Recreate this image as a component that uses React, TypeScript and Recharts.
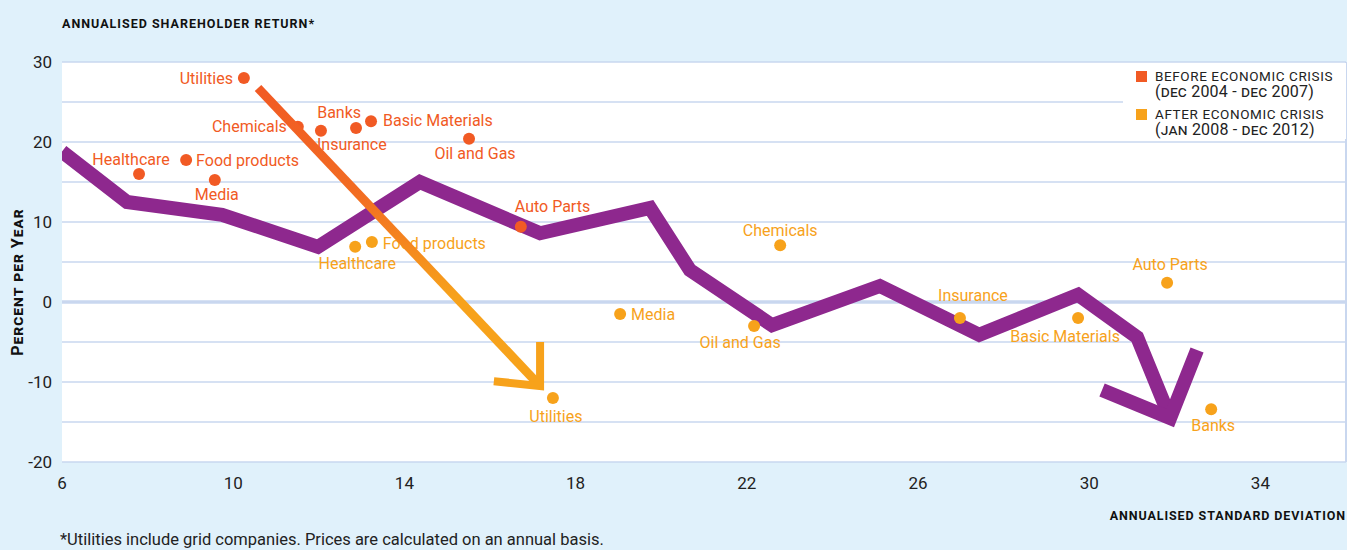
import React from 'react'
import { CartesianGrid, ReferenceLine, Scatter, ScatterChart, XAxis, YAxis } from 'recharts'

// Sector results: x = annualised standard deviation, y = return (% per year)
const beforeNames = ['Utilities', 'Chemicals', 'Insurance', 'Banks', 'Basic Materials', 'Oil and Gas', 'Healthcare', 'Food products', 'Media', 'Auto Parts']
const beforeRisk = [10.25, 11.51, 12.05, 12.87, 13.22, 15.51, 7.8, 8.9, 9.57, 16.72]
const beforeReturn = [28.0, 21.9, 21.4, 21.75, 22.6, 20.4, 16.0, 17.75, 15.25, 9.4]

const afterNames = ['Healthcare', 'Food products', 'Utilities', 'Media', 'Oil and Gas', 'Chemicals', 'Insurance', 'Basic Materials', 'Auto Parts', 'Banks']
const afterRisk = [12.85, 13.24, 17.47, 19.04, 22.17, 22.78, 26.98, 29.74, 31.82, 32.85]
const afterReturn = [6.9, 7.5, -12.0, -1.5, -3.0, 7.1, -2.0, -2.0, 2.4, -13.4]

// Purple trend zig-zag and its arrow head
const trendRisk = [6, 7.52, 9.74, 11.98, 14.36, 17.17, 19.74, 20.67, 22.59, 25.11, 27.43, 29.74, 31.12, 31.89]
const trendReturn = [18.8, 12.5, 10.9, 6.9, 15.0, 8.6, 11.75, 4.0, -2.9, 2.0, -4.1, 0.9, -4.4, -14.5]
const trendHeadRisk = [30.3, 31.89, 32.52]
const trendHeadReturn = [-11.0, -14.5, -6.0]

// Utilities shift arrow (before -> after)
const shiftRisk = [10.58, 17.17]
const shiftReturn = [26.75, -10.5]
const shiftHeadRisk = [16.09, 17.17, 17.17]
const shiftHeadReturn = [-9.9, -10.5, -5.0]

const xTicks = [6, 10, 14, 18, 22, 26, 30, 34]
const yTicks = [-20, -10, 0, 10, 20, 30]
const gridValues = [-20, -15, -10, -5, 0, 5, 10, 15, 20, 25, 30]

const legendTitles = ['BEFORE ECONOMIC CRISIS', 'AFTER ECONOMIC CRISIS']
const legendRanges = ['(dec 2004 - dec 2007)', '(jan 2008 - dec 2012)']

// label placement next to each dot: [dx, dy, anchor]
type Place = [number, number, 'start' | 'middle' | 'end']
const beforePlaces: Place[] = [
  [-11, 0, 'end'], [-11, 0, 'end'], [-4, 14, 'start'], [5, -16, 'end'], [12, -1, 'start'],
  [6, 15, 'middle'], [-8, -15, 'middle'], [10, 0, 'start'], [2, 14, 'middle'], [-6, -20, 'start']
]
const afterPlaces: Place[] = [
  [2, 17, 'middle'], [11, 1, 'start'], [3, 18, 'middle'], [11, 0, 'start'], [-14, 16, 'middle'],
  [0, -15, 'middle'], [13, -23, 'middle'], [-13, 18, 'middle'], [3, -18, 'middle'], [2, 16, 'middle']
]

const RED = '#f15a24'
const ORANGE = '#f7a21b'
const PURPLE = '#8e288e'
const GRID = '#c9d7ef'
const FONT = 'Roboto, sans-serif'
const legendColors = [RED, ORANGE]

const toPoints = (xs: number[], ys: number[], names?: string[]) =>
  xs.map((x, i) => ({ x, y: ys[i], name: names ? names[i] : '', i }))

const beforeData = toPoints(beforeRisk, beforeReturn, beforeNames)
const afterData = toPoints(afterRisk, afterReturn, afterNames)
const trendData = toPoints(trendRisk, trendReturn)
const trendHeadData = toPoints(trendHeadRisk, trendHeadReturn)
const shiftData = toPoints(shiftRisk, shiftReturn)
const shiftHeadData = toPoints(shiftHeadRisk, shiftHeadReturn)

const noDot = () => <g />

function labelledDot(color: string, places: Place[]) {
  return (props: any) => {
    const { cx, cy, payload } = props
    const [dx, dy, anchor] = places[payload.i]
    return (
      <g>
        <circle cx={cx} cy={cy} r={6} fill={color} />
        <text x={cx + dx} y={cy + dy} textAnchor={anchor} dominantBaseline='central' fill={color} fontSize={16} fontFamily={FONT}>
          {payload.name}
        </text>
      </g>
    )
  }
}

function LegendBox() {
  return (
    <div style={{ position: 'absolute', top: 63, left: 1123, background: '#fff', width: 223, height: 76, paddingTop: 5, boxSizing: 'border-box', fontFamily: FONT, color: '#222' }}>
      {legendTitles.map((title, i) => (
        <div key={title} style={{ display: 'flex', marginBottom: 6, marginLeft: 13 }}>
          <div style={{ width: 11, height: 11, background: legendColors[i], marginTop: 3, marginRight: 8 }} />
          <div style={{ fontSize: 13.5, lineHeight: '16px', letterSpacing: 0.6 }}>
            <div>{title}</div>
            <div style={{ fontVariant: 'small-caps', fontSize: 16, letterSpacing: 0.2 }}>{legendRanges[i]}</div>
          </div>
        </div>
      ))}
    </div>
  )
}

export default function App() {
  return (
    <div style={{ position: 'absolute', left: 0, top: 0, width: 1347, height: 550, background: '#e0f1fb', overflow: 'hidden' }}>
      <div style={{ position: 'absolute', left: 62, top: 16, fontFamily: FONT, fontWeight: 700, fontSize: 12.5, letterSpacing: 1, color: '#111' }}>
        ANNUALISED SHAREHOLDER RETURN*
      </div>
      <div style={{ position: 'absolute', left: 60, top: 530, fontFamily: FONT, fontSize: 16.5, color: '#222' }}>
        *Utilities include grid companies. Prices are calculated on an annual basis.
      </div>
      <ScatterChart width={1347} height={550} margin={{ top: 62, right: 1, bottom: 0, left: 0 }}>
        <defs>
          <linearGradient id='shiftGrad' x1='0' y1='0' x2='0' y2='1'>
            <stop offset='0%' stopColor='#f15a24' />
            <stop offset='35%' stopColor='#f26c22' />
            <stop offset='70%' stopColor='#f7a21b' />
            <stop offset='100%' stopColor='#f7a21b' />
          </linearGradient>
        </defs>
        <CartesianGrid fill='#fff' vertical={false} stroke={GRID} strokeWidth={1.5} horizontalValues={gridValues} />
        <ReferenceLine y={0} stroke={GRID} strokeWidth={3.5} />
        <ReferenceLine x={36} stroke={GRID} strokeWidth={2} />
        <XAxis
          type='number'
          dataKey='x'
          domain={[6, 36]}
          ticks={xTicks}
          axisLine={false}
          tickLine={false}
          height={88}
          allowDataOverflow
          tick={(p: any) => (
            <text x={p.x} y={483} textAnchor='middle' dominantBaseline='central' fill='#222' fontSize={17} fontFamily={FONT}>
              {p.payload.value}
            </text>
          )}
          label={{
            content: () => (
              <text x={1346} y={515} textAnchor='end' dominantBaseline='central' fill='#111' fontSize={12.5} fontWeight={700} letterSpacing={0.9} fontFamily={FONT}>
                ANNUALISED STANDARD DEVIATION
              </text>
            )
          }}
        />
        <YAxis
          type='number'
          dataKey='y'
          domain={[-20, 30]}
          ticks={yTicks}
          axisLine={false}
          tickLine={false}
          width={62}
          allowDataOverflow
          tick={(p: any) => (
            <text x={52} y={p.y} textAnchor='end' dominantBaseline='central' fill='#222' fontSize={17} fontFamily={FONT}>
              {p.payload.value}
            </text>
          )}
          label={{
            content: () => (
              <text x={17} y={282} transform='rotate(-90 17 282)' textAnchor='middle' dominantBaseline='central' fill='#111' fontSize={16} fontWeight={700} letterSpacing={1} fontFamily={FONT} style={{ fontVariant: 'small-caps' }}>
                Percent per Year
              </text>
            )
          }}
        />
        <Scatter name='trend' data={trendData} line={{ stroke: PURPLE, strokeWidth: 14 }} shape={noDot} isAnimationActive={false} legendType='none' />
        <Scatter name='trend head' data={trendHeadData} line={{ stroke: PURPLE, strokeWidth: 14 }} shape={noDot} isAnimationActive={false} legendType='none' />
        <Scatter name='Before economic crisis' data={beforeData} fill={RED} shape={labelledDot(RED, beforePlaces)} isAnimationActive={false} />
        <Scatter name='After economic crisis' data={afterData} fill={ORANGE} shape={labelledDot(ORANGE, afterPlaces)} isAnimationActive={false} />
        <Scatter name='shift' data={shiftData} line={{ stroke: 'url(#shiftGrad)', strokeWidth: 9 }} shape={noDot} isAnimationActive={false} legendType='none' />
        <Scatter name='shift head' data={shiftHeadData} line={{ stroke: ORANGE, strokeWidth: 8 }} shape={noDot} isAnimationActive={false} legendType='none' />
      </ScatterChart>
      <LegendBox />
    </div>
  )
}
